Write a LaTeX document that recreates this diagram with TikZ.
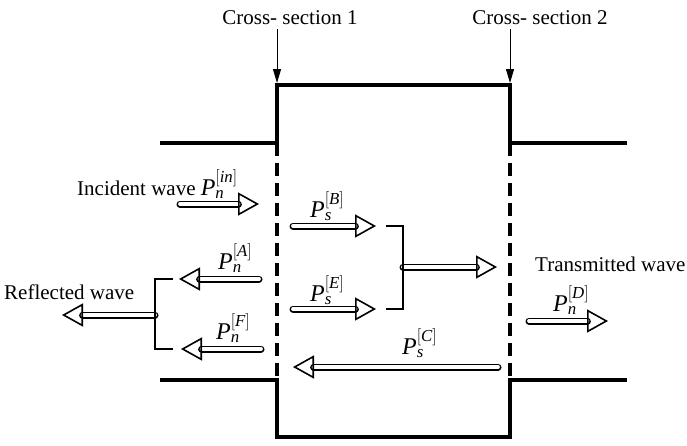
\documentclass[tikz,border=0pt]{standalone}
\usepackage{amsmath}
\usepackage{fontspec}
\setmainfont{Liberation Serif}
\usetikzlibrary{arrows.meta}
\newcommand{\wv}[2]{{\fontsize{24pt}{26pt}\selectfont$\textit{P}_{\textit{#1}}^{[\textit{#2}]}$}}
\begin{document}
\begin{tikzpicture}[x=1pt,y=-1pt,every node/.style={inner sep=0pt,font=\fontsize{21pt}{24pt}\selectfont},
  wall/.style={line width=3.2pt},
  port/.style={line width=3.2pt,dash pattern=on 13pt off 7pt},
  wave/.style={double,double distance=3.8pt,line width=1.6pt,line cap=round,-{Triangle[open,length=21pt,width=23pt,line width=1.6pt]}},
  brace/.style={line width=1.6pt},
  pointer/.style={line width=1pt,shorten <=4pt,-{Triangle[length=14pt,width=8pt]}}]
\useasboundingbox (0,0) rectangle (687,445);
% chamber and pipes
\draw[wall] (160,143)--(277,143)--(277,85)--(510,85)--(510,143)--(627,143);
\draw[wall] (160,380)--(277,380)--(277,437)--(510,437)--(510,380)--(627,380);
\draw[port] (277,143)--(277,380);
\draw[port] (510,143)--(510,380);
% cross sections
\node (s1) at (290,18) {Cross- section 1};
\node (s2) at (540,18) {Cross- section 2};
\coordinate (t1) at (277,83);\coordinate (t2) at (510,83);
\draw[pointer] (s1.south-|t1)--(t1);\draw[pointer] (s2.south-|t2)--(t2);
% labels
\node[anchor=west] (inc) at (77,184) {Incident wave \wv{n}{in}};
\node[anchor=west] (refl) at (4,292) {Reflected wave};
\node[anchor=west] (trans) at (535,264) {Transmitted wave};
\node[anchor=west] (la) at (218,258) {\wv{n}{A}};
\node[anchor=west] (lf) at (216,328) {\wv{n}{F}};
\node[anchor=west] (lb) at (310,206) {\wv{s}{B}};
\node[anchor=west] (le) at (310,290) {\wv{s}{E}};
\node[anchor=west] (lc) at (402,343) {\wv{s}{C}};
\node[anchor=west] (ld) at (553,300) {\wv{n}{D}};
% waves
\coordinate (in0) at (180,204);\coordinate (in1) at (259,204);
\coordinate (a0) at (259,279);\coordinate (a1) at (179,279);
\coordinate (f0) at (261,349);\coordinate (f1) at (181,349);
\coordinate (b0) at (293,226);\coordinate (b1) at (376,226);
\coordinate (e0) at (293,309);\coordinate (e1) at (376,309);
\coordinate (c0) at (498,367);\coordinate (c1) at (293,367);
\coordinate (d0) at (529,321);\coordinate (d1) at (608,321);
\coordinate (r0) at (155,315);\coordinate (r1) at (62,315);
\coordinate (m0) at (403,267);\coordinate (m1) at (497,267);
\draw[wave] (in0)--(in1);\draw[wave] (a0)--(a1);\draw[wave] (f0)--(f1);
\draw[wave] (b0)--(b1);\draw[wave] (e0)--(e1);\draw[wave] (c0)--(c1);
\draw[wave] (d0)--(d1);\draw[wave] (r0)--(r1);\draw[wave] (m0)--(m1);
% brackets
\coordinate (ra) at (173,279);\coordinate (rf) at (173,349);
\coordinate (bb) at (386,226);\coordinate (be) at (386,309);
\draw[brace] (ra)-|(r0)|-(rf);
\draw[brace] (bb)-|(m0)|-(be);
\end{tikzpicture}
\end{document}
